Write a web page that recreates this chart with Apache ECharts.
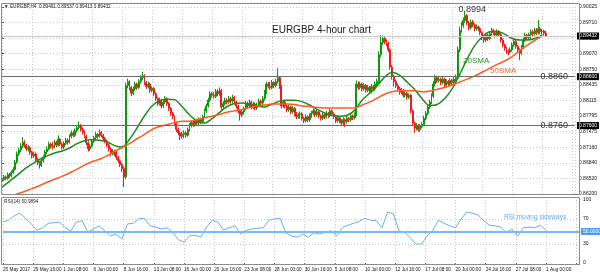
<!DOCTYPE html>
<html><head><meta charset="utf-8">
<script src="https://cdn.jsdelivr.net/npm/echarts@6/dist/echarts.min.js"></script>
<style>html,body{margin:0;padding:0;background:#fff}#c{width:600px;height:276px}</style>
</head><body><div id="c"></div>
<script>
// ---- data (EURGBP H4, 25 May 2017 -> 1 Aug 2017) ----
const dateLabels = ['25 May 2017','29 May 16:00','1 Jun 08:00','6 Jun 00:00','8 Jun 16:00','13 Jun 08:00','16 Jun 00:00','20 Jun 16:00','23 Jun 08:00','28 Jun 00:00','30 Jun 16:00','5 Jul 08:00','10 Jul 00:00','12 Jul 16:00','17 Jul 08:00','20 Jul 00:00','24 Jul 16:00','27 Jul 08:00','1 Aug 00:00'];
const priceTickLabels = ['0.86200','0.86520','0.86840','0.87160','0.87475','0.87795','0.88115','0.88435','0.88750','0.89070','0.89390','0.89710','0.90025'];
const rsiTickLabels = {0:'0',30:'30',70:'70',100:'100'};

const opens = [
0.8646,0.8650,0.8655,0.8652,0.8660,0.8657,0.8664,0.8670,0.8685,0.8702,
0.8710,0.8718,0.8726,0.8720,0.8712,0.8715,0.8705,0.8698,0.8702,0.8690,
0.8684,0.8678,0.8688,0.8695,0.8706,0.8712,0.8722,0.8718,0.8716,0.8726,
0.8720,0.8732,0.8722,0.8716,0.8724,0.8730,0.8726,0.8738,0.8745,0.8740,
0.8750,0.8756,0.8760,0.8752,0.8746,0.8738,0.8725,0.8712,0.8718,0.8728,
0.8735,0.8742,0.8738,0.8746,0.8740,0.8733,0.8728,0.8720,0.8712,0.8702,
0.8708,0.8706,0.8695,0.8688,0.8680,0.8672,0.8655,0.8842,0.8850,0.8838,
0.8826,0.8835,0.8845,0.8838,0.8850,0.8858,0.8862,0.8848,0.8840,0.8845,
0.8832,0.8836,0.8825,0.8815,0.8805,0.8812,0.8800,0.8808,0.8815,0.8805,
0.8795,0.8785,0.8778,0.8765,0.8752,0.8745,0.8738,0.8742,0.8745,0.8740,
0.8752,0.8760,0.8766,0.8762,0.8770,0.8765,0.8772,0.8768,0.8778,0.8790,
0.8800,0.8812,0.8825,0.8822,0.8820,0.8830,0.8825,0.8832,0.8798,0.8805,
0.8812,0.8808,0.8815,0.8810,0.8818,0.8808,0.8800,0.8790,0.8782,0.8788,
0.8795,0.8805,0.8800,0.8808,0.8798,0.8804,0.8796,0.8802,0.8810,0.8806,
0.8815,0.8828,0.8845,0.8840,0.8838,0.8848,0.8842,0.8850,0.8858,0.8840,
0.8800,0.8808,0.8800,0.8792,0.8798,0.8788,0.8795,0.8785,0.8778,0.8782,
0.8784,0.8775,0.8770,0.8778,0.8772,0.8780,0.8785,0.8790,0.8782,0.8788,
0.8780,0.8775,0.8782,0.8778,0.8785,0.8781,0.8790,0.8784,0.8778,0.8770,
0.8776,0.8770,0.8765,0.8772,0.8768,0.8775,0.8772,0.8780,0.8776,0.8782,
0.8845,0.8838,0.8845,0.8835,0.8842,0.8832,0.8838,0.8830,0.8840,0.8835,
0.8845,0.8850,0.8905,0.8930,0.8938,0.8932,0.8928,0.8915,0.8880,0.8860,
0.8850,0.8842,0.8835,0.8828,0.8832,0.8822,0.8826,0.8818,0.8822,0.8790,
0.8765,0.8755,0.8760,0.8752,0.8758,0.8762,0.8775,0.8785,0.8798,0.8808,
0.8820,0.8845,0.8858,0.8852,0.8855,0.8848,0.8855,0.8842,0.8850,0.8845,
0.8852,0.8848,0.8855,0.8858,0.8915,0.8955,0.8965,0.8975,0.8985,0.8970,
0.8960,0.8972,0.8966,0.8958,0.8962,0.8958,0.8950,0.8940,0.8935,0.8945,
0.8938,0.8948,0.8955,0.8950,0.8945,0.8952,0.8946,0.8935,0.8925,0.8918,
0.8912,0.8910,0.8915,0.8925,0.8932,0.8922,0.8915,0.8908,0.8920,0.8935,
0.8945,0.8940,0.8946,0.8952,0.8948,0.8955,0.8950,0.8958,0.8952,0.8953,
0.8949];
const closes = [
0.8650,0.8655,0.8652,0.8660,0.8657,0.8664,0.8670,0.8685,0.8702,0.8710,
0.8718,0.8726,0.8720,0.8712,0.8715,0.8705,0.8698,0.8702,0.8690,0.8684,
0.8678,0.8688,0.8695,0.8706,0.8712,0.8722,0.8718,0.8716,0.8726,0.8720,
0.8732,0.8722,0.8716,0.8724,0.8730,0.8726,0.8738,0.8745,0.8740,0.8750,
0.8756,0.8760,0.8752,0.8746,0.8738,0.8725,0.8712,0.8718,0.8728,0.8735,
0.8742,0.8738,0.8746,0.8740,0.8733,0.8728,0.8720,0.8712,0.8702,0.8708,
0.8706,0.8695,0.8688,0.8680,0.8672,0.8655,0.8842,0.8850,0.8838,0.8826,
0.8835,0.8845,0.8838,0.8850,0.8858,0.8862,0.8848,0.8840,0.8845,0.8832,
0.8836,0.8825,0.8815,0.8805,0.8812,0.8800,0.8808,0.8815,0.8805,0.8795,
0.8785,0.8778,0.8765,0.8752,0.8745,0.8738,0.8742,0.8745,0.8740,0.8752,
0.8760,0.8766,0.8762,0.8770,0.8765,0.8772,0.8768,0.8778,0.8790,0.8800,
0.8812,0.8825,0.8822,0.8820,0.8830,0.8825,0.8832,0.8798,0.8805,0.8812,
0.8808,0.8815,0.8810,0.8818,0.8808,0.8800,0.8790,0.8782,0.8788,0.8795,
0.8805,0.8800,0.8808,0.8798,0.8804,0.8796,0.8802,0.8810,0.8806,0.8815,
0.8828,0.8845,0.8840,0.8838,0.8848,0.8842,0.8850,0.8858,0.8840,0.8800,
0.8808,0.8800,0.8792,0.8798,0.8788,0.8795,0.8785,0.8778,0.8782,0.8784,
0.8775,0.8770,0.8778,0.8772,0.8780,0.8785,0.8790,0.8782,0.8788,0.8780,
0.8775,0.8782,0.8778,0.8785,0.8781,0.8790,0.8784,0.8778,0.8770,0.8776,
0.8770,0.8765,0.8772,0.8768,0.8775,0.8772,0.8780,0.8776,0.8782,0.8845,
0.8838,0.8845,0.8835,0.8842,0.8832,0.8838,0.8830,0.8840,0.8835,0.8845,
0.8850,0.8905,0.8930,0.8938,0.8932,0.8928,0.8915,0.8880,0.8860,0.8850,
0.8842,0.8835,0.8828,0.8832,0.8822,0.8826,0.8818,0.8822,0.8790,0.8765,
0.8755,0.8760,0.8752,0.8758,0.8762,0.8775,0.8785,0.8798,0.8808,0.8820,
0.8845,0.8858,0.8852,0.8855,0.8848,0.8855,0.8842,0.8850,0.8845,0.8852,
0.8848,0.8855,0.8858,0.8915,0.8955,0.8965,0.8975,0.8985,0.8970,0.8960,
0.8972,0.8966,0.8958,0.8962,0.8958,0.8950,0.8940,0.8935,0.8945,0.8938,
0.8948,0.8955,0.8950,0.8945,0.8952,0.8946,0.8935,0.8925,0.8918,0.8912,
0.8910,0.8915,0.8925,0.8932,0.8922,0.8915,0.8908,0.8920,0.8935,0.8945,
0.8940,0.8946,0.8952,0.8948,0.8955,0.8950,0.8958,0.8952,0.8953,0.8949,
0.8943];
const highs = [
0.8654,0.8659,0.8658,0.8664,0.8663,0.8668,0.8675,0.8690,0.8707,0.8715,
0.8724,0.8736,0.8730,0.8723,0.8720,0.8718,0.8708,0.8707,0.8705,0.8694,
0.8688,0.8692,0.8699,0.8710,0.8717,0.8727,0.8725,0.8726,0.8731,0.8729,
0.8740,0.8735,0.8725,0.8728,0.8735,0.8734,0.8742,0.8750,0.8749,0.8754,
0.8761,0.8768,0.8763,0.8756,0.8750,0.8741,0.8728,0.8722,0.8732,0.8739,
0.8747,0.8745,0.8752,0.8749,0.8743,0.8737,0.8731,0.8723,0.8715,0.8712,
0.8711,0.8709,0.8698,0.8691,0.8684,0.8676,0.8848,0.8856,0.8853,0.8841,
0.8840,0.8850,0.8848,0.8855,0.8863,0.8870,0.8865,0.8851,0.8850,0.8848,
0.8840,0.8839,0.8828,0.8818,0.8817,0.8815,0.8813,0.8820,0.8818,0.8808,
0.8798,0.8788,0.8781,0.8768,0.8756,0.8749,0.8747,0.8750,0.8749,0.8756,
0.8765,0.8771,0.8770,0.8775,0.8774,0.8777,0.8776,0.8782,0.8795,0.8805,
0.8817,0.8830,0.8829,0.8829,0.8835,0.8834,0.8838,0.8835,0.8810,0.8817,
0.8816,0.8820,0.8819,0.8823,0.8821,0.8811,0.8803,0.8793,0.8792,0.8799,
0.8810,0.8809,0.8813,0.8811,0.8809,0.8807,0.8807,0.8815,0.8814,0.8820,
0.8833,0.8850,0.8849,0.8849,0.8853,0.8851,0.8856,0.8877,0.8861,0.8843,
0.8813,0.8811,0.8803,0.8803,0.8801,0.8800,0.8798,0.8788,0.8786,0.8789,
0.8787,0.8778,0.8783,0.8781,0.8785,0.8790,0.8795,0.8793,0.8793,0.8791,
0.8783,0.8787,0.8786,0.8790,0.8788,0.8795,0.8793,0.8787,0.8781,0.8781,
0.8779,0.8773,0.8777,0.8775,0.8780,0.8778,0.8785,0.8783,0.8787,0.8852,
0.8850,0.8850,0.8848,0.8847,0.8845,0.8843,0.8841,0.8845,0.8843,0.8850,
0.8856,0.8912,0.8945,0.8944,0.8942,0.8936,0.8931,0.8918,0.8884,0.8864,
0.8854,0.8846,0.8839,0.8837,0.8835,0.8831,0.8829,0.8826,0.8825,0.8793,
0.8768,0.8765,0.8763,0.8763,0.8767,0.8780,0.8790,0.8803,0.8813,0.8826,
0.8851,0.8864,0.8862,0.8860,0.8858,0.8860,0.8858,0.8855,0.8853,0.8857,
0.8856,0.8860,0.8864,0.8922,0.8962,0.8972,0.8981,0.8994,0.8988,0.8974,
0.8977,0.8976,0.8969,0.8967,0.8965,0.8962,0.8953,0.8944,0.8950,0.8948,
0.8953,0.8960,0.8958,0.8954,0.8957,0.8955,0.8949,0.8938,0.8928,0.8921,
0.8916,0.8920,0.8930,0.8937,0.8935,0.8925,0.8918,0.8925,0.8940,0.8950,
0.8948,0.8950,0.8957,0.8956,0.8960,0.8959,0.8976,0.8962,0.8958,0.8956,
0.8954];
const lows = [
0.8642,0.8647,0.8648,0.8649,0.8653,0.8654,0.8661,0.8668,0.8682,0.8698,
0.8706,0.8714,0.8715,0.8708,0.8707,0.8700,0.8693,0.8694,0.8686,0.8679,
0.8672,0.8675,0.8684,0.8692,0.8702,0.8709,0.8713,0.8711,0.8713,0.8716,
0.8717,0.8718,0.8711,0.8712,0.8720,0.8721,0.8723,0.8734,0.8736,0.8737,
0.8746,0.8752,0.8748,0.8742,0.8734,0.8720,0.8707,0.8708,0.8715,0.8724,
0.8731,0.8733,0.8735,0.8736,0.8729,0.8724,0.8716,0.8707,0.8697,0.8699,
0.8698,0.8690,0.8683,0.8675,0.8665,0.8634,0.8650,0.8836,0.8832,0.8820,
0.8822,0.8831,0.8833,0.8835,0.8846,0.8853,0.8843,0.8835,0.8836,0.8827,
0.8828,0.8820,0.8810,0.8800,0.8801,0.8795,0.8796,0.8804,0.8800,0.8790,
0.8780,0.8773,0.8760,0.8747,0.8740,0.8730,0.8733,0.8734,0.8735,0.8737,
0.8748,0.8756,0.8757,0.8758,0.8760,0.8761,0.8763,0.8764,0.8775,0.8786,
0.8797,0.8808,0.8817,0.8815,0.8816,0.8820,0.8821,0.8792,0.8794,0.8801,
0.8803,0.8804,0.8805,0.8806,0.8803,0.8795,0.8785,0.8770,0.8777,0.8783,
0.8791,0.8795,0.8796,0.8793,0.8794,0.8791,0.8792,0.8798,0.8801,0.8802,
0.8811,0.8824,0.8836,0.8833,0.8834,0.8837,0.8838,0.8846,0.8835,0.8795,
0.8796,0.8795,0.8787,0.8788,0.8783,0.8784,0.8780,0.8773,0.8774,0.8774,
0.8770,0.8765,0.8766,0.8767,0.8768,0.8776,0.8781,0.8777,0.8778,0.8775,
0.8770,0.8771,0.8773,0.8774,0.8776,0.8777,0.8779,0.8773,0.8765,0.8766,
0.8765,0.8760,0.8761,0.8757,0.8764,0.8767,0.8768,0.8771,0.8772,0.8779,
0.8833,0.8834,0.8830,0.8831,0.8827,0.8828,0.8825,0.8826,0.8830,0.8831,
0.8841,0.8847,0.8900,0.8925,0.8926,0.8922,0.8910,0.8874,0.8854,0.8840,
0.8837,0.8830,0.8823,0.8824,0.8817,0.8818,0.8813,0.8814,0.8785,0.8760,
0.8745,0.8750,0.8747,0.8748,0.8754,0.8759,0.8771,0.8781,0.8794,0.8804,
0.8816,0.8840,0.8847,0.8848,0.8843,0.8844,0.8837,0.8838,0.8840,0.8841,
0.8843,0.8844,0.8850,0.8855,0.8910,0.8950,0.8960,0.8970,0.8965,0.8955,
0.8956,0.8961,0.8953,0.8954,0.8953,0.8945,0.8935,0.8929,0.8931,0.8933,
0.8934,0.8944,0.8945,0.8940,0.8941,0.8941,0.8930,0.8920,0.8913,0.8906,
0.8904,0.8907,0.8911,0.8921,0.8917,0.8910,0.8894,0.8904,0.8916,0.8931,
0.8935,0.8936,0.8936,0.8943,0.8944,0.8945,0.8946,0.8947,0.8946,0.8944,
0.8941];

// indicator lines: SMA every 4 bars, RSI every 3 bars
const SMA_STEP = 4, RSI_STEP = 3;
const sma20 = [
0.8634,0.8646,0.8658,0.8671,0.8681,0.8691,0.8698,0.8704,0.8708,0.8714,
0.8723,0.8729,0.8731,0.8730,0.8727,0.8719,0.8716,0.8732,0.8755,0.8780,
0.8800,0.8811,0.8814,0.8813,0.8799,0.8782,0.8769,0.8765,0.8774,0.8787,
0.8799,0.8805,0.8806,0.8804,0.8800,0.8798,0.8804,0.8810,0.8812,0.8812,
0.8809,0.8802,0.8793,0.8786,0.8781,0.8779,0.8781,0.8791,0.8812,0.8826,
0.8841,0.8859,0.8869,0.8863,0.8849,0.8834,0.8815,0.8801,0.8803,0.8815,
0.8835,0.8864,0.8896,0.8923,0.8941,0.8952,0.8953,0.8947,0.8938,0.8935,
0.8935,0.8938,0.8945];
const sma50 = [
0.8610,0.8614,0.8620,0.8625,0.8631,0.8637,0.8644,0.8650,0.8656,0.8663,
0.8671,0.8679,0.8686,0.8691,0.8698,0.8707,0.8715,0.8723,0.8733,0.8742,
0.8752,0.8758,0.8762,0.8766,0.8769,0.8769,0.8772,0.8776,0.8779,0.8783,
0.8787,0.8790,0.8793,0.8797,0.8800,0.8802,0.8804,0.8804,0.8804,0.8803,
0.8800,0.8799,0.8797,0.8796,0.8796,0.8796,0.8796,0.8796,0.8802,0.8808,
0.8816,0.8824,0.8829,0.8831,0.8831,0.8831,0.8829,0.8830,0.8834,0.8838,
0.8843,0.8849,0.8855,0.8861,0.8869,0.8877,0.8885,0.8892,0.8901,0.8913,
0.8924,0.8934,0.8943];
const rsi14 = [
65,68,75,79,71,62,52,56,63,64,
65,56,51,65,67,49,54,59,51,43,
46,38,62,63,70,71,59,57,54,56,
49,37,33,43,44,41,57,68,65,52,
56,59,46,52,54,55,56,68,70,71,
48,43,41,46,41,48,46,49,51,43,
56,60,63,66,71,68,67,56,81,78,
51,49,40,30,30,43,52,68,63,59,
56,70,81,79,76,67,60,59,57,48,
54,43,56,57,56,60,52];

const resistance = 0.8860, support = 0.8760, bid = 0.89432;
const rsiMid = 50, rsiHi = 70, rsiLo = 30;

// ---- chart ----
const FONT = '"Liberation Sans", Arial, sans-serif';
const Y_MIN = 0.862, Y_MAX = 0.90025, Y_INT = (Y_MAX - Y_MIN) / 12;
const X_MAX = 305.5, X_INT = 16;

const candleData = closes.map((c, i) => [i, opens[i], c, lows[i], highs[i]]);
const sma20Data = sma20.map((v, k) => [k * SMA_STEP, v]);
const sma50Data = sma50.map((v, k) => [k * SMA_STEP, v]);
const rsiData = rsi14.map((v, k) => [k * RSI_STEP, v]);
const peakIdx = highs.indexOf(Math.max(...highs));

const grid = '#c6c6c6';
const splitX = {show: true, lineStyle: {color: grid, type: [1, 2], width: 1}};
const boxLabel = (txt, bg) => ({show: true, position: 'end', distance: 2, formatter: txt, color: '#fff', backgroundColor: bg, fontSize: 5, padding: [1, 2], fontFamily: FONT});

const chart = echarts.init(document.getElementById('c'), null, {renderer: 'canvas', width: 600, height: 276});
chart.setOption({
  animation: false,
  backgroundColor: '#fff',
  textStyle: {fontFamily: FONT},
  grid: [
    {left: 2, top: 7, width: 577, height: 187},
    {left: 2, top: 200, width: 577, height: 63}
  ],
  xAxis: [
    {type: 'value', gridIndex: 0, min: 0, max: X_MAX, interval: X_INT,
     axisLine: {show: false}, axisTick: {show: false}, axisLabel: {show: false}, splitLine: splitX},
    {type: 'value', gridIndex: 1, min: 0, max: X_MAX, interval: X_INT,
     axisLine: {show: false},
     axisTick: {show: true, length: 2, lineStyle: {color: '#555'}},
     axisLabel: {show: true, showMinLabel: true, fontSize: 4.7, color: '#111', align: 'left', margin: 4, fontFamily: FONT,
       formatter: v => { const k = Math.round(v / X_INT); return (Math.abs(v - k * X_INT) < 1e-6 && dateLabels[k]) ? dateLabels[k] : ''; }},
     splitLine: splitX}
  ],
  yAxis: [
    {type: 'value', gridIndex: 0, position: 'right', min: Y_MIN, max: Y_MAX, interval: Y_INT,
     axisLine: {show: false}, axisTick: {show: true, length: 2, lineStyle: {color: '#555'}},
     axisLabel: {fontSize: 5, color: '#111', margin: 4, fontFamily: FONT,
       formatter: v => priceTickLabels[Math.round((v - Y_MIN) / Y_INT)] || ''},
     splitLine: {show: true, lineStyle: {color: grid, type: [1, 2], width: 1}}},
    {type: 'value', gridIndex: 1, position: 'right', min: 0, max: 100, interval: 10,
     axisLine: {show: false}, axisTick: {show: false},
     axisLabel: {fontSize: 5, color: '#111', margin: 4, fontFamily: FONT,
       formatter: v => rsiTickLabels[v] || ''},
     splitLine: {show: false}}
  ],
  graphic: [
    {type: 'rect', silent: true, z: 100, shape: {x: 1.5, y: 3.5, width: 578, height: 191}, style: {fill: 'none', stroke: '#8c8c8c', lineWidth: 1}},
    {type: 'rect', silent: true, z: 100, shape: {x: 1.5, y: 197.5, width: 578, height: 67}, style: {fill: 'none', stroke: '#8c8c8c', lineWidth: 1}},
    {type: 'text', left: 4, top: 4, z: 101, style: {text: '\u25BC EURGBP,H4  0.89491 0.89537 0.89413 0.89432', fill: '#222', font: '4.7px ' + FONT}},
    {type: 'text', left: 4, top: 199, z: 101, style: {text: 'RSI(14) 50.9894', fill: '#222', font: '4.7px ' + FONT}},
    {type: 'text', left: 272, top: 25, z: 101, style: {text: 'EURGBP 4-hour chart', fill: '#1a1a1a', font: '10px ' + FONT}},
    {type: 'text', left: 463, top: 57, z: 101, style: {text: '20SMA', fill: '#2a8a2a', font: '8px ' + FONT}},
    {type: 'text', left: 490, top: 67, z: 101, style: {text: '50SMA', fill: '#ff6a3a', font: '8px ' + FONT}},
    {type: 'text', left: 504, top: 214, z: 101, style: {text: 'RSI moving sideways', fill: '#6aaaf5', font: '6.5px ' + FONT}}
  ],
  series: [
    {type: 'candlestick', xAxisIndex: 0, yAxisIndex: 0, z: 3,
     dimensions: ['bar', 'open', 'close', 'lowest', 'highest'],
     encode: {x: 'bar', y: ['open', 'close', 'lowest', 'highest']},
     data: candleData, barWidth: 1.4, clip: true,
     itemStyle: {color: '#0a9a0a', color0: '#f21a1a', borderColor: '#0a9a0a', borderColor0: '#f21a1a', borderWidth: 1},
     markLine: {silent: true, symbol: ['none', 'none'], animation: false, precision: 5,
       data: [
         {yAxis: bid, lineStyle: {color: '#c8c8c8', width: 1, type: 'solid'}, label: boxLabel(bid.toFixed(5), '#000')},
         {yAxis: resistance, lineStyle: {color: '#6a6a6a', width: 1, type: 'solid'}, label: boxLabel(resistance.toFixed(5), '#000')},
         {yAxis: support, lineStyle: {color: '#6a6a6a', width: 1, type: 'solid'}, label: boxLabel(support.toFixed(5), '#000')}
       ]},
     markPoint: {silent: true, symbol: 'circle', symbolSize: 0, animation: false,
       data: [
         {coord: [peakIdx, highs[peakIdx]], value: highs[peakIdx],
          label: {show: true, position: 'top', distance: 0, offset: [7, 3], formatter: highs[peakIdx].toFixed(4), color: '#333', fontSize: 9, fontFamily: FONT}},
         {coord: [X_MAX, resistance], value: resistance,
          label: {show: true, position: 'left', distance: 0, offset: [-7, 0], formatter: resistance.toFixed(4), color: '#333', fontSize: 9, fontFamily: FONT}},
         {coord: [X_MAX, support], value: support,
          label: {show: true, position: 'left', distance: 0, offset: [-7, 0], formatter: support.toFixed(4), color: '#333', fontSize: 9, fontFamily: FONT}}
       ]}
    },
    {type: 'line', name: '20SMA', xAxisIndex: 0, yAxisIndex: 0, z: 4, data: sma20Data, showSymbol: false, smooth: 0.3, clip: true,
     lineStyle: {color: '#1f8a1f', width: 1.5}},
    {type: 'line', name: '50SMA', xAxisIndex: 0, yAxisIndex: 0, z: 4, data: sma50Data, showSymbol: false, smooth: 0.3, clip: true,
     lineStyle: {color: '#ff5a26', width: 1.5}},
    {type: 'line', name: 'RSI', xAxisIndex: 1, yAxisIndex: 1, z: 4, data: rsiData, showSymbol: false, clip: true,
     lineStyle: {color: '#6aaaf5', width: 1},
     markLine: {silent: true, symbol: ['none', 'none'], animation: false, precision: 4,
       data: [
         {yAxis: rsiHi, lineStyle: {color: grid, type: [1, 2], width: 1}, label: {show: false}},
         {yAxis: rsiLo, lineStyle: {color: grid, type: [1, 2], width: 1}, label: {show: false}},
         {yAxis: rsiMid, lineStyle: {color: '#7db8f5', type: 'solid', width: 2}, label: boxLabel(rsiMid.toFixed(4), '#4a9cf0')}
       ]}}
  ]
});
</script>
</body></html>
